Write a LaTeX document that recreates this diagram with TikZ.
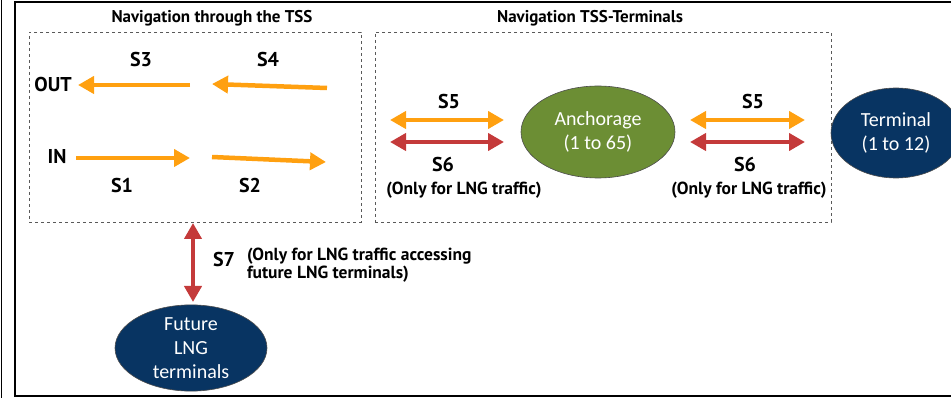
\documentclass[tikz,border=0pt]{standalone}
\usepackage{fontspec}
\setmainfont{PT Sans}
\newfontfamily\ellfont{Carlito}
\usetikzlibrary{arrows.meta,shapes.geometric,positioning}

\definecolor{laneorange}{RGB}{255,160,16}
\definecolor{lanered}{RGB}{196,58,58}
\definecolor{anchgreen}{RGB}{108,142,52}
\definecolor{termnavy}{RGB}{8,52,98}

\begin{document}
\begin{tikzpicture}[x=1pt,y=-1pt]
\tikzset{ >={Triangle[length=16pt,width=17pt]}, inner sep=0pt, outer sep=0pt,
  zone/.style={draw=black!65, dashed, line width=0.7pt},
  lane/.style={line width=4.5pt, laneorange},
  lng/.style={line width=4.5pt, lanered},
  seg/.style={font=\bfseries\fontsize{20}{20}\selectfont},
  note/.style={font=\bfseries\fontsize{17.5}{17.5}\selectfont},
  head/.style={font=\bfseries\fontsize{17}{17}\selectfont},
  port/.style={ellipse, draw=black!70, line width=0.6pt, text=white,
    font=\ellfont\fontsize{20}{24}\selectfont, align=center},
}

\useasboundingbox (0,0) rectangle (951,398);

% frame
\draw [line width=2.2pt] (960,2) -- (15,2) -- (15,396) -- (960,396);
\draw [line width=1pt] (1,0) -- (1,398);

% the two zones
\node [zone, minimum width=332pt, minimum height=190pt] (tss) at (195,127) {};
\node [zone, minimum width=456pt, minimum height=190pt] (term) at (603,127) {};
\node [head] (tsshead) at (212,18) {Navigation through the TSS};
\node [head] (termhead) at (590,18) {Navigation TSS-Terminals};

\node [port, fill=anchgreen, minimum width=154pt, minimum height=92pt] (anch) at (598,132) {Anchorage\\(1 to 65)};
\node [port, fill=termnavy, minimum width=130pt, minimum height=90pt] (termnl) at (896,133) {Terminal\\(1 to 12)};
\node [port, fill=termnavy, minimum width=152pt, minimum height=85pt] (future) at (191,348) {Future\\LNG\\terminals};

% TSS lanes
\coordinate (s3a) at (190,85);  \coordinate (s3b) at (78,85);
\coordinate (s4a) at (327,88);  \coordinate (s4b) at (212,84);
\coordinate (s1a) at (76,158);  \coordinate (s1b) at (190,158);
\coordinate (s2a) at (212,157); \coordinate (s2b) at (326,162);

\draw [lane,->] (s3a) -- (s3b);
\draw [lane,->] (s4a) -- (s4b);
\draw [lane,->] (s1a) -- (s1b);
\draw [lane,->] (s2a) -- (s2b);

\node [seg] (out) at (53,85) {OUT};
\node [seg] (in) at (57,157) {IN};
\node [seg] (s3) at (141,60) {S3};
\node [seg] (s4) at (268,60) {S4};
\node [seg] (s1) at (122,186) {S1};
\node [seg] (s2) at (250,186) {S2};

% TSS - anchorage - terminal
\coordinate (w5a) at (390,120); \coordinate (w5b) at (504,120);
\coordinate (w6a) at (390,142); \coordinate (w6b) at (504,142);
\coordinate (e5a) at (690,120); \coordinate (e5b) at (805,120);
\coordinate (e6a) at (690,142); \coordinate (e6b) at (805,142);

\draw [lane,<->] (w5a) -- (w5b);
\draw [lng,<->] (w6a) -- (w6b);
\draw [lane,<->] (e5a) -- (e5b);
\draw [lng,<->] (e6a) -- (e6b);

\node [seg] (w5) at (449,102) {S5};
\node [seg] (w6) at (443,165) {S6};
\node [note] (w6note) at (464,190) {(Only for LNG traffic)};
\node [seg] (e5) at (753,102) {S5};
\node [seg] (e6) at (745,165) {S6};
\node [note] (e6note) at (749,190) {(Only for LNG traffic)};

% future LNG terminals
\coordinate (s7a) at (193,223); \coordinate (s7b) at (193,302);
\draw [lng,<->] (s7a) -- (s7b);
\node [seg] (s7) at (224,260) {S7};
\node [note, anchor=west, align=left] (s7note) at (247,265) {(Only for LNG traffic accessing\\future LNG terminals)};

\end{tikzpicture}
\end{document}
